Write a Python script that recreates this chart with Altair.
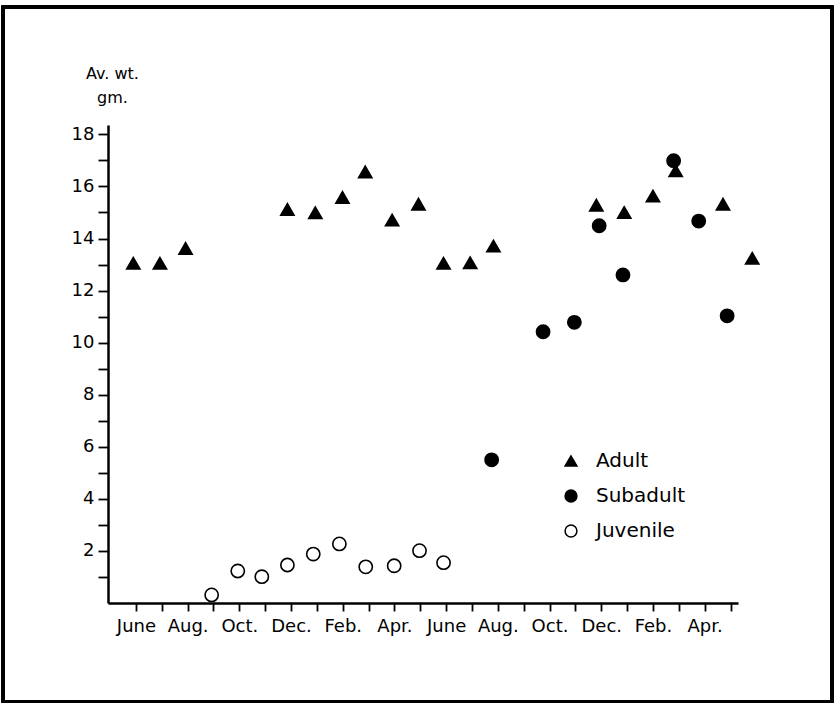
import altair as alt
import pandas as pd

# Month index 0 = June of the first year; ticks run monthly for two years.
tick_labels = ["June", "", "Aug.", "", "Oct.", "", "Dec.", "", "Feb.", "", "Apr.", "",
               "June", "", "Aug.", "", "Oct.", "", "Dec.", "", "Feb.", "", "Apr.", ""]

# Average weights (gm.) by sampling date (fractional month index)
adult_month = [-0.1, 0.93, 1.92, 5.86, 6.94, 7.99, 8.87, 9.91, 10.93, 11.9, 12.93, 13.83,
               17.81, 18.89, 20.0, 20.88, 22.71, 23.84]
adult_wt = [13.05, 13.05, 13.62, 15.12, 14.99, 15.58, 16.56, 14.71, 15.32, 13.05, 13.07, 13.71,
            15.28, 15.0, 15.63, 16.6, 15.32, 13.24]

subadult_month = [13.76, 15.75, 16.96, 17.92, 18.84, 20.8, 21.77, 22.87]
subadult_wt = [5.5, 10.42, 10.78, 14.49, 12.6, 16.99, 14.67, 11.03]

juvenile_month = [2.93, 3.94, 4.87, 5.86, 6.86, 7.87, 8.89, 9.99, 10.97, 11.9]
juvenile_wt = [0.31, 1.23, 1.01, 1.46, 1.88, 2.27, 1.39, 1.43, 2.01, 1.55]

stages = ["Adult", "Subadult", "Juvenile"]

df = pd.concat([
    pd.DataFrame({"stage": "Adult", "month": adult_month, "wt": adult_wt}),
    pd.DataFrame({"stage": "Subadult", "month": subadult_month, "wt": subadult_wt}),
    pd.DataFrame({"stage": "Juvenile", "month": juvenile_month, "wt": juvenile_wt}),
], ignore_index=True)

FONT = "DejaVu Sans"
label_js = "[" + ",".join("'" + t + "'" for t in tick_labels) + "]"

legend = alt.Legend(
    title=None, orient="none", legendX=453, legendY=326, direction="vertical",
    padding=0, labelFont=FONT, labelFontSize=20, labelColor="black",
    labelOffset=15, rowPadding=15, symbolSize=140, symbolStrokeWidth=1.5,
)

points = alt.Chart(df).mark_point(
    filled=True, size=175, strokeWidth=1.6, opacity=1
).encode(
    x=alt.X("month:Q",
            scale=alt.Scale(domain=[-1.08, 23.29], nice=False, zero=False),
            axis=alt.Axis(values=list(range(24)), labelExpr=label_js + "[datum.value]",
                          title=None, grid=False, tickSize=8, tickWidth=1.8,
                          domainWidth=2.5, labelPadding=6, labelFont=FONT,
                          labelFontSize=18, labelColor="black", tickColor="black",
                          domainColor="black", labelOverlap=False, labelFlush=False)),
    y=alt.Y("wt:Q",
            scale=alt.Scale(domain=[0, 18.36], nice=False),
            axis=alt.Axis(values=list(range(1, 19)),
                          labelExpr="datum.value % 2 == 0 ? datum.label : ''",
                          title=["Av. wt.", "gm."], titleAngle=0, titleAlign="center",
                          titleBaseline="top", titleX=4, titleY=-60,
                          titleFont=FONT, titleFontSize=16, titleFontWeight="normal",
                          titleLineHeight=24, titleColor="black",
                          grid=False, tickSize=10, tickWidth=1.8, domainWidth=2.5,
                          labelPadding=4, labelFont=FONT, labelFontSize=18,
                          labelColor="black", tickColor="black", domainColor="black",
                          labelOverlap=False)),
    shape=alt.Shape("stage:N",
                    scale=alt.Scale(domain=stages,
                                    range=["triangle-up", "circle", "circle"]),
                    legend=legend),
    fill=alt.Fill("stage:N",
                  scale=alt.Scale(domain=stages, range=["black", "black", "white"]),
                  legend=legend),
    stroke=alt.Stroke("stage:N",
                      scale=alt.Scale(domain=stages, range=["black", "black", "black"]),
                      legend=legend),
)

# Outer frame around the figure
frame = alt.Chart(df).mark_rect(
    fillOpacity=0, stroke="black", strokeWidth=2.5
).encode(
    x=alt.value(-105), x2=alt.value(724), y=alt.value(-118), y2=alt.value(577)
)

chart = alt.layer(frame, points).properties(
    width=630, height=478,
    autosize=alt.AutoSizeParams(type="none"),
    padding={"left": 108, "top": 125, "right": 97, "bottom": 100},
    background="white",
).configure_view(stroke=None)

chart.save("out.html", embed_options={"renderer": "svg", "actions": False})
